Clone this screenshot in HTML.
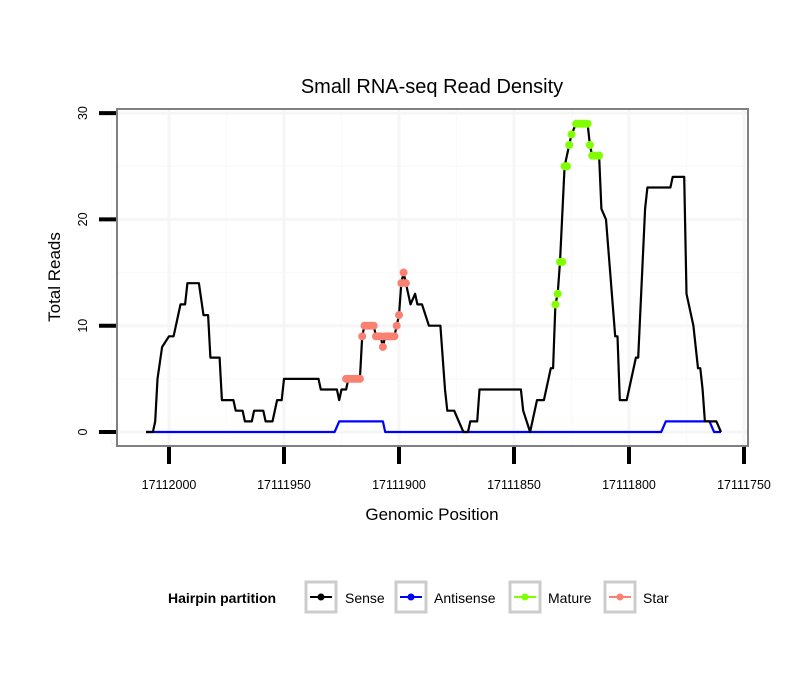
<!DOCTYPE html>
<html><head><meta charset="utf-8"><style>
body{margin:0;background:#fff;font-family:"Liberation Sans",sans-serif}
</style></head><body>
<svg id="chart" width="810" height="690" xmlns="http://www.w3.org/2000/svg" font-family="Liberation Sans, sans-serif">
<rect width="810" height="690" fill="#fff"/>
<text x="432" y="93" font-size="20" text-anchor="middle">Small RNA-seq Read Density</text>
<g id="grid"></g>
<g id="series"></g>
<rect x="117" y="109" width="631" height="337" fill="none" stroke="#808080" stroke-width="2"/>
<g id="axes"></g>
<text x="432" y="520" font-size="17" text-anchor="middle">Genomic Position</text>
<text transform="translate(60,277) rotate(-90)" font-size="17" text-anchor="middle">Total Reads</text>
<g>
<text x="168" y="603" font-size="14" font-weight="bold">Hairpin partition</text>
<g><rect x="306" y="582" width="30" height="30" fill="#fff" stroke="#ccc" stroke-width="3"/><line x1="310" y1="597" x2="332" y2="597" stroke="#000" stroke-width="2"/><circle cx="321" cy="597" r="3.5" fill="#000"/><text x="345" y="603" font-size="14">Sense</text></g>
<g><rect x="396" y="582" width="30" height="30" fill="#fff" stroke="#ccc" stroke-width="3"/><line x1="400" y1="597" x2="422" y2="597" stroke="#0000ff" stroke-width="2"/><circle cx="411" cy="597" r="3.5" fill="#0000ff"/><text x="434" y="603" font-size="14">Antisense</text></g>
<g><rect x="510" y="582" width="30" height="30" fill="#fff" stroke="#ccc" stroke-width="3"/><line x1="514" y1="597" x2="536" y2="597" stroke="#7fff00" stroke-width="2"/><circle cx="525" cy="597" r="3.5" fill="#7fff00"/><text x="548" y="603" font-size="14">Mature</text></g>
<g><rect x="605" y="582" width="30" height="30" fill="#fff" stroke="#ccc" stroke-width="3"/><line x1="609" y1="597" x2="631" y2="597" stroke="#fa8072" stroke-width="2"/><circle cx="620" cy="597" r="3.5" fill="#fa8072"/><text x="643" y="603" font-size="14">Star</text></g>
</g>
</svg>
<script>
const xTicks=[17112000,17111950,17111900,17111850,17111800,17111750];
const yTicks=[0,10,20,30];
const senseData=[[17112010,0],[17112007,0],[17112006,1],[17112005,5],[17112003,8],[17112000,9],[17111998,9],[17111995,12],[17111993,12],[17111992,14],[17111987,14],[17111985,11],[17111983,11],[17111982,7],[17111978,7],[17111977,3],[17111972,3],[17111971,2],[17111968,2],[17111967,1],[17111964,1],[17111963,2],[17111959,2],[17111958,1],[17111955,1],[17111953,3],[17111951,3],[17111950,5],[17111935,5],[17111934,4],[17111927,4],[17111926,3],[17111925,4],[17111923,4],[17111922,5],[17111917,5],[17111916,9],[17111915,10],[17111911,10],[17111910,9],[17111908,9],[17111907,8],[17111906,9],[17111902,9],[17111901,10],[17111900,11],[17111899,14],[17111898,15],[17111897,14],[17111895,12],[17111893,13],[17111892,12],[17111890,12],[17111887,10],[17111882,10],[17111880,4],[17111879,2],[17111876,2],[17111874,1],[17111872,0],[17111870,0],[17111869,1],[17111866,1],[17111865,4],[17111847,4],[17111846,2],[17111843,0],[17111840,3],[17111837,3],[17111836,4],[17111834,6],[17111833,6],[17111832,12],[17111831,13],[17111830,16],[17111828,25],[17111826,27],[17111825,28],[17111823,29],[17111818,29],[17111817,27],[17111816,26],[17111813,26],[17111812,21],[17111810,20],[17111806,9],[17111805,9],[17111804,3],[17111801,3],[17111799,5],[17111797,7],[17111796,7],[17111793,21],[17111792,23],[17111782,23],[17111781,24],[17111776,24],[17111775,13],[17111772,10],[17111770,6],[17111769,6],[17111768,4],[17111767,1],[17111762,1],[17111760,0]];
const antisenseData=[[17112010,0],[17111928,0],[17111926,1],[17111907,1],[17111906,0],[17111786,0],[17111784,1],[17111765,1],[17111763,0],[17111760,0]];
const matureData=[[17111832,12],[17111831,13],[17111830,16],[17111829,16],[17111828,25],[17111827,25],[17111826,27],[17111825,28],[17111823,29],[17111822,29],[17111821,29],[17111820,29],[17111819,29],[17111818,29],[17111817,27],[17111816,26],[17111815,26],[17111814,26],[17111813,26]];
const starData=[[17111923,5],[17111922,5],[17111921,5],[17111920,5],[17111919,5],[17111918,5],[17111917,5],[17111916,9],[17111915,10],[17111914,10],[17111913,10],[17111912,10],[17111911,10],[17111910,9],[17111909,9],[17111908,9],[17111907,8],[17111906,9],[17111905,9],[17111904,9],[17111903,9],[17111902,9],[17111901,10],[17111900,11],[17111899,14],[17111898,15],[17111897,14]];
const NS='http://www.w3.org/2000/svg';
const X0=169,PX=2.3;
function xs(p){return X0+(17112000-p)*PX;}
function ys(v){return 432-v*10.63;}
function mk(tag,attrs,parent){const e=document.createElementNS(NS,tag);for(const k in attrs)e.setAttribute(k,attrs[k]);parent.appendChild(e);return e;}
const grid=document.getElementById('grid'),axes=document.getElementById('axes'),series=document.getElementById('series');
for(let i=0;i<xTicks.length-1;i++){const p=(xTicks[i]+xTicks[i+1])/2;const l=mk('line',{x1:xs(p),x2:xs(p),y1:110,y2:445,stroke:'#fafafa','stroke-width':1.5},grid);

}
const xm0=(xTicks[0]+25);{const l=mk('line',{x1:xs(xm0),x2:xs(xm0),y1:110,y2:445,stroke:'#fafafa','stroke-width':1.5},grid);

}
for(let i=0;i<yTicks.length-1;i++){const v=(yTicks[i]+yTicks[i+1])/2;const l=mk('line',{x1:118,x2:747,y1:ys(v),y2:ys(v),stroke:'#fafafa','stroke-width':1.5},grid);

}
xTicks.forEach(p=>{const l=mk('line',{x1:xs(p),x2:xs(p),y1:110,y2:445,stroke:'#f6f6f6','stroke-width':3},grid);


const t=mk('line',{x1:xs(p),x2:xs(p),y1:447,y2:464,stroke:'#000','stroke-width':4},axes);


const tx=mk('text',{x:xs(p),y:489,'font-size':12.5,'text-anchor':'middle'},axes);tx.textContent=p;

});
yTicks.forEach(v=>{const l=mk('line',{x1:118,x2:747,y1:ys(v),y2:ys(v),stroke:'#f6f6f6','stroke-width':3},grid);


const t=mk('line',{x1:99,x2:116,y1:ys(v),y2:ys(v),stroke:'#000','stroke-width':4},axes);


const tx=mk('text',{transform:`translate(87,${ys(v)}) rotate(-90)`,'font-size':12.5,'text-anchor':'middle'},axes);tx.textContent=v;

});
function line(data,color,name){const d=data.map((p,i)=>(i?'L':'M')+xs(p[0]).toFixed(1)+','+ys(p[1]).toFixed(1)).join('');
const e=mk('path',{d:d,fill:'none',stroke:color,'stroke-width':2.2,'stroke-linejoin':'round'},series);

}
function pts(data,color,name){data.forEach(p=>{const c=mk('circle',{cx:xs(p[0]),cy:ys(p[1]),r:4,fill:color},series);

});}
line(antisenseData,'#0000ff','antisense-line');
line(senseData,'#000','sense-line');
pts(starData,'#fa8072','star-point');
pts(matureData,'#7fff00','mature-point');
</script>
</body></html>
